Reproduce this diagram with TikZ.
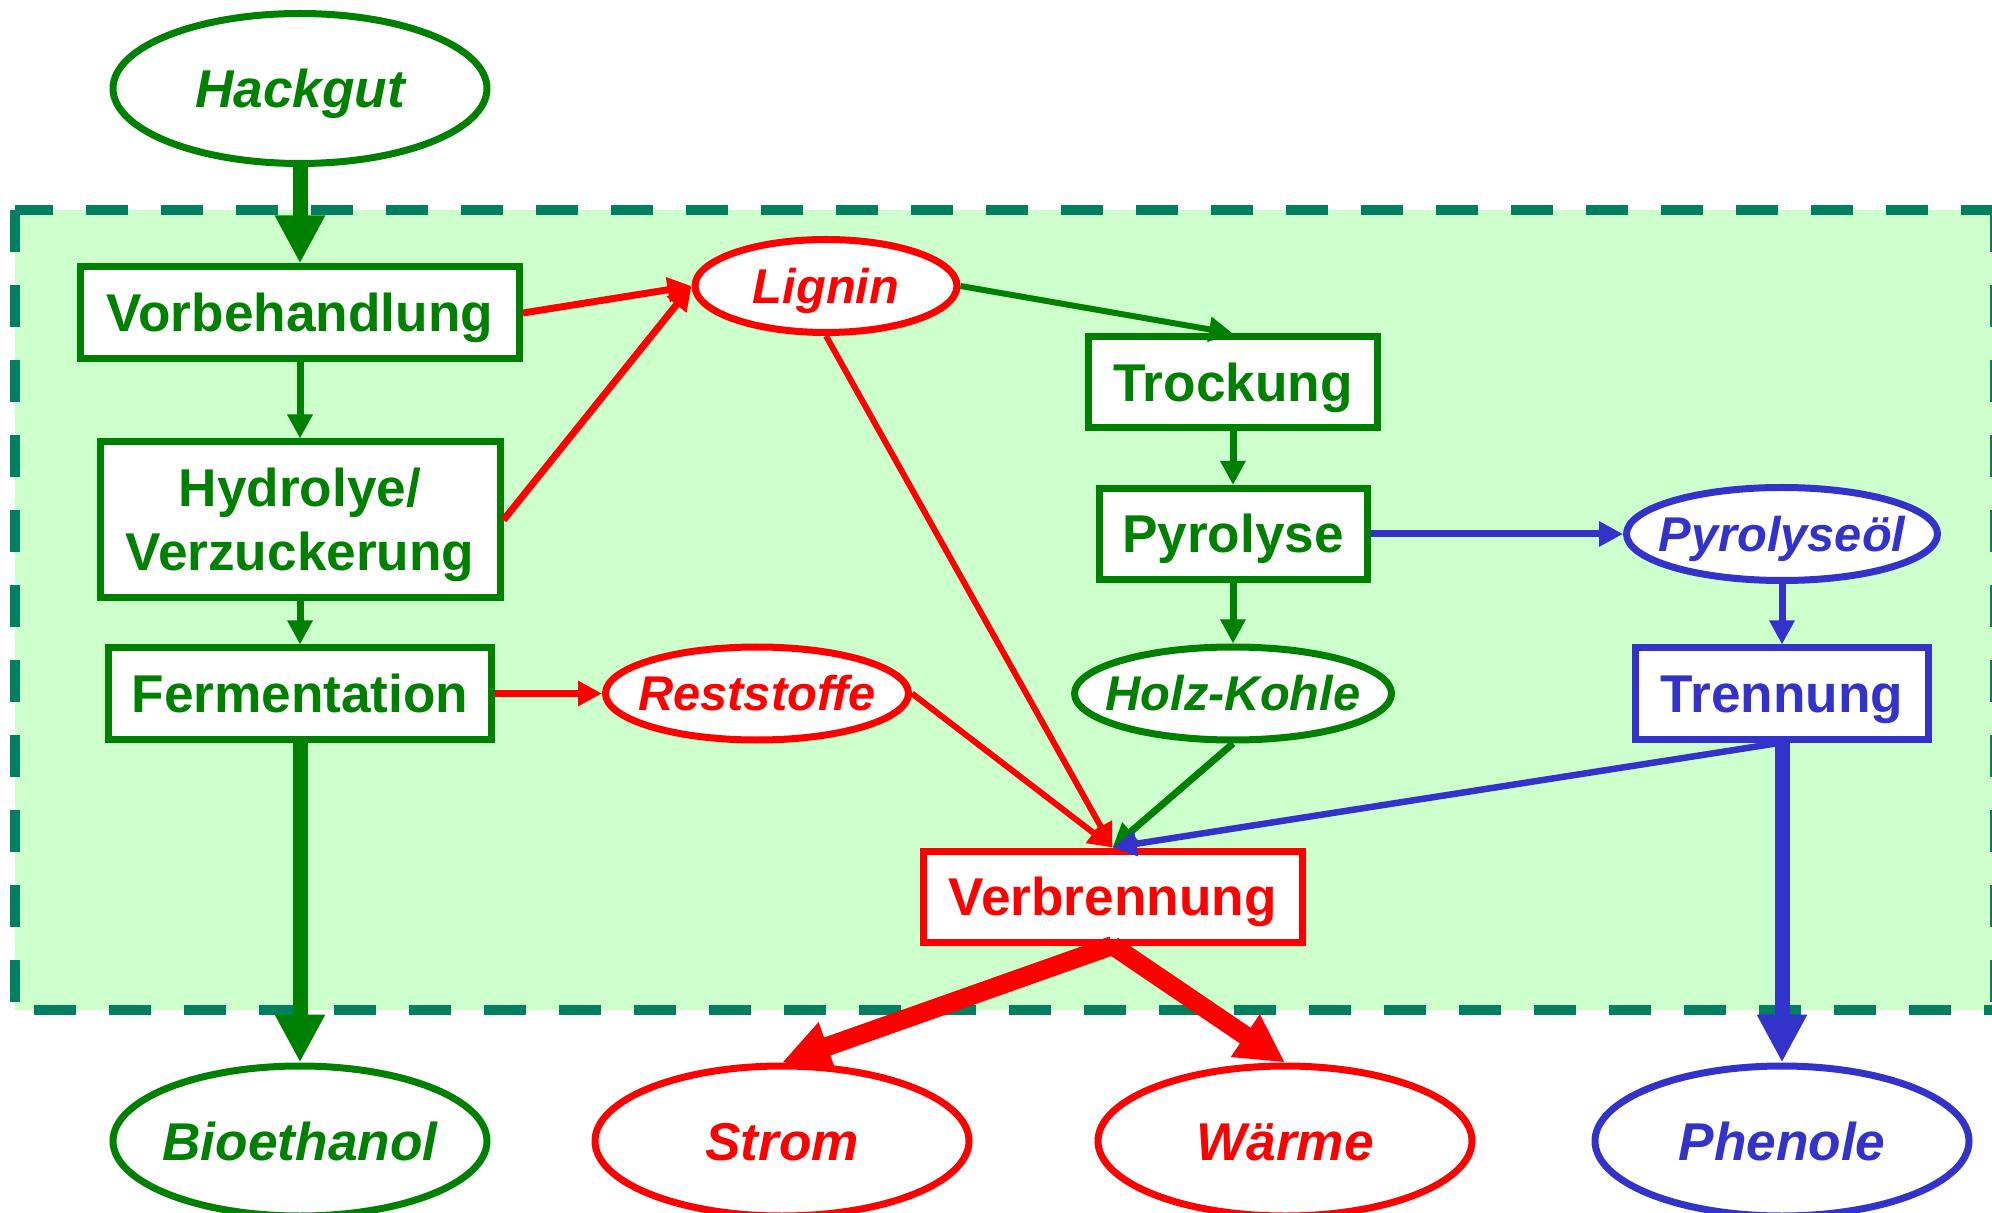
\documentclass[tikz,border=0pt]{standalone}
\usepackage{fontspec}
\setmainfont{Liberation Sans}
\usetikzlibrary{arrows.meta,shapes.geometric}
\definecolor{gr}{RGB}{0,128,0}
\definecolor{rd}{RGB}{255,0,0}
\definecolor{bl}{RGB}{51,51,204}
\definecolor{dashc}{RGB}{0,128,96}
\definecolor{bgfill}{RGB}{204,255,204}
\newcommand{\ct}[1]{\makebox[0pt][c]{#1}}
\tikzset{
  G/.style={draw=gr, text=gr},
  R/.style={draw=rd, text=rd},
  B/.style={draw=bl, text=bl},
  procbox/.style={draw, line width=3.5pt, fill=white, inner sep=0pt,
    font=\fontsize{26.6}{32}\selectfont\bfseries, text height=19pt, text depth=0pt},
  bigell/.style={ellipse, draw, line width=3.5pt, fill=white, inner sep=0pt,
    font=\fontsize{26.6}{32}\selectfont\bfseries\itshape,
    minimum width=187pt, minimum height=75pt, text height=19pt, text depth=0pt},
  smallell/.style={ellipse, draw, line width=3.5pt, fill=white, inner sep=0pt,
    font=\fontsize{24.4}{30}\selectfont\bfseries\itshape,
    minimum height=46.5pt, text height=17.5pt, text depth=0pt},
  thinarr/.style={line width=3.5pt, -{Triangle[length=12pt,width=12pt]}},
  slimarr/.style={line width=3pt, -{Triangle[length=12pt,width=12pt]}},
  thickarr/.style={line width=7.5pt, -{Triangle[length=24pt,width=23.5pt]}},
  hugearr/.style={line width=9.5pt, -{Triangle[length=24pt,width=24pt]}},
  border/.style={dashc, line width=5pt, dash pattern=on 21pt off 16.5pt}
}
\begin{document}
\begin{tikzpicture}[x=0.5pt,y=-0.5pt]
\useasboundingbox (0,0) rectangle (1992,1213);
% background region
\fill[bgfill] (15,210) rectangle (1995,1010);
\draw[border, dash phase=2pt] (15,210) -- (1995,210);
\draw[border] (15,210) -- (15,1010);
\draw[border, dash phase=28pt] (15,1010) -- (1995,1010);
\draw[border] (1995,210) -- (1995,1010);
% nodes
\node[bigell, G] (hack) at (300,88.5) {\ct{Hackgut}};
\node[procbox, G, minimum width=219.5pt, minimum height=46pt] (vor) at (300,313) {Vorbehandlung};
\node[procbox, G, minimum width=200pt, minimum height=78pt, align=center, text height=51pt, text depth=0pt] (hyd) at (300,520) {Hydrolye/\\Verzuckerung};
\node[procbox, G, minimum width=191.5pt, minimum height=45.5pt] (fer) at (300,693.5) {Fermentation};
\node[smallell, R, minimum width=131pt] (lig) at (826,286) {\ct{Lignin}};
\node[procbox, G, minimum width=144.5pt, minimum height=45.5pt] (tro) at (1233,382.5) {Trockung};
\node[procbox, G, minimum width=134pt, minimum height=45.5pt] (pyr) at (1233,534) {Pyrolyse};
\node[smallell, B, minimum width=155.5pt] (oel) at (1782,534) {\ct{Pyrolyseöl}};
\node[smallell, G, minimum width=158.5pt] (hk) at (1233,693.5) {\ct{Holz-Kohle}};
\node[smallell, R, minimum width=151.5pt] (rest) at (757,693.5) {\ct{Reststoffe}};
\node[procbox, B, minimum width=146.5pt, minimum height=45.5pt] (tre) at (1782,693.5) {Trennung};
\node[procbox, R, minimum width=189.5pt, minimum height=45.5pt] (verb) at (1112.5,896.5) {Verbrennung};
\node[bigell, G] (bio) at (300,1141) {\ct{Bioethanol}};
\node[bigell, R] (strom) at (782,1141) {\ct{Strom}};
\node[bigell, R] (waerme) at (1285,1141) {\ct{Wärme}};
\node[bigell, B] (phen) at (1782,1141) {\ct{Phenole}};
% connectors
\draw[thickarr, gr] (hack.south) -- (vor.north);
\draw[thinarr, gr] (vor.south) -- (hyd.north);
\draw[thinarr, gr] (hyd.south) -- (fer.north);
\draw[thickarr, gr] (fer.south) -- (bio.north);
\draw[thinarr, rd] (vor.east) -- (lig.west);
\draw[thinarr, rd] (hyd.east) -- (lig.west);
\draw[thinarr, rd] (fer.east) -- (rest.west);
\draw[thinarr, gr, line width=3pt] (lig.east) -- (tro.north);
\draw[thinarr, gr] (tro.south) -- (pyr.north);
\draw[thinarr, gr] (pyr.south) -- (hk.north);
\draw[thinarr, bl] (pyr.east) -- (oel.west);
\draw[thinarr, bl] (oel.south) -- (tre.north);
\draw[thickarr, bl] (tre.south) -- (phen.north);
\draw[slimarr, rd] (lig.south) -- (verb.north);
\draw[slimarr, rd] (rest.east) -- (verb.north);
\draw[thinarr, gr] (hk.south) -- (verb.north);
\draw[thinarr, bl, line width=3.25pt] (tre.south) -- (verb.north);
\draw[hugearr, rd] (verb.south) -- (strom.north);
\draw[hugearr, rd] (verb.south) -- (waerme.north);
\end{tikzpicture}
\end{document}
